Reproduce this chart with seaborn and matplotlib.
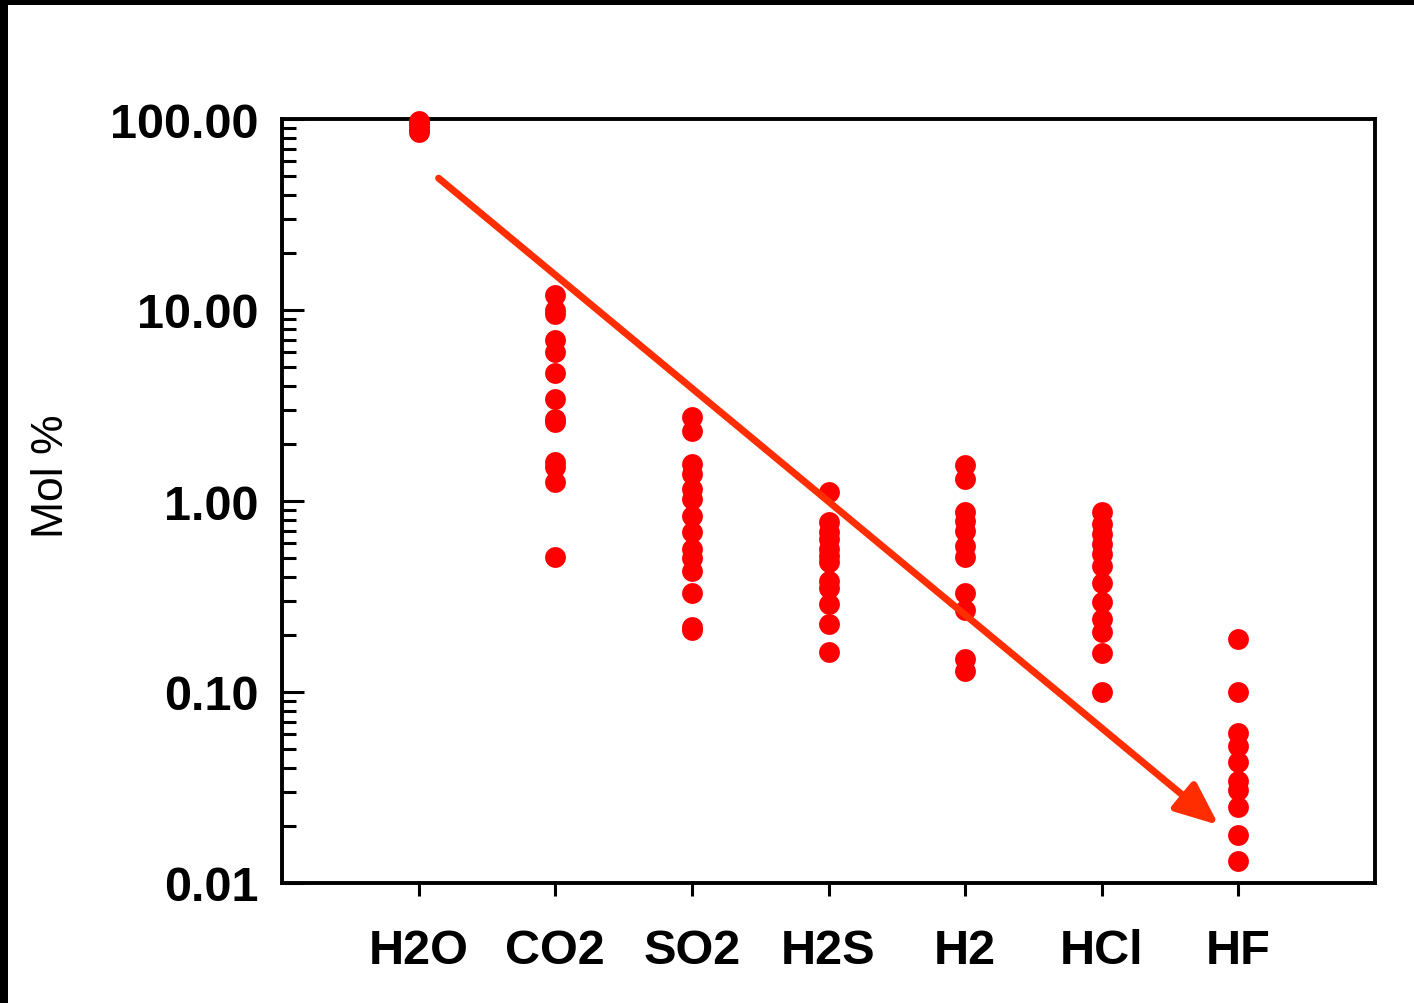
import matplotlib
matplotlib.use("Agg")
import matplotlib.pyplot as plt
import seaborn as sns
import pandas as pd
from matplotlib.patches import Rectangle
from matplotlib.ticker import LogLocator, FixedLocator, FuncFormatter, NullFormatter

categories = ["H2O", "CO2", "SO2", "H2S", "H2", "HCl", "HF"]
h2o = [98, 95, 92, 88, 85]
co2 = [12, 10, 9.5, 7, 6, 4.7, 3.4, 2.7, 2.6, 1.6, 1.5, 1.25, 0.51]
so2 = [2.75, 2.33, 1.56, 1.38, 1.16, 1.02, 0.83, 0.69, 0.56, 0.5, 0.43, 0.33, 0.22, 0.21]
h2s = [1.11, 0.78, 0.69, 0.63, 0.56, 0.515, 0.48, 0.38, 0.35, 0.29, 0.227, 0.162]
h2 = [1.54, 1.3, 0.876, 0.79, 0.7, 0.58, 0.51, 0.33, 0.27, 0.149, 0.129]
hcl = [0.876, 0.758, 0.67, 0.596, 0.528, 0.457, 0.372, 0.296, 0.241, 0.206, 0.16, 0.10]
hf = [0.19, 0.10, 0.061, 0.052, 0.043, 0.034, 0.0305, 0.025, 0.0178, 0.013]
y_ticks = [0.01, 0.1, 1, 10, 100]
y_label = "Mol %"
arrow_start = (0.146, 49.0)
arrow_end = (5.856, 0.0201)

series = [h2o, co2, so2, h2s, h2, hcl, hf]
rows = []
for cat, vals in zip(categories, series):
    for v in vals:
        rows.append({"gas": cat, "mol": v})
df = pd.DataFrame(rows)

sns.set_style("white")
plt.rcParams["font.family"] = ["Liberation Sans", "DejaVu Sans"]
plt.rcParams["text.color"] = "black"
plt.rcParams["axes.labelcolor"] = "black"
plt.rcParams["xtick.color"] = "black"
plt.rcParams["ytick.color"] = "black"

fig = plt.figure(figsize=(14.14, 10.04), dpi=100)
ax = fig.add_axes([282 / 1414, 1 - 884 / 1004, (1375 - 282) / 1414, (884 - 120) / 1004])

sns.stripplot(data=df, x="gas", y="mol", order=categories, jitter=False,
              color="#FF0000", size=15, linewidth=0, ax=ax, clip_on=False, zorder=3)

ax.set_yscale("log")
ax.set_ylim(0.01, 100)
ax.set_xlim(-1, len(categories))

ax.yaxis.set_major_locator(FixedLocator(y_ticks))
ax.yaxis.set_minor_locator(LogLocator(base=10, subs=range(2, 10), numticks=20))
ax.yaxis.set_major_formatter(FuncFormatter(lambda v, p: f"{v:.2f}"))
ax.yaxis.set_minor_formatter(NullFormatter())

for s in ax.spines.values():
    s.set_visible(True)
    s.set_linewidth(2.8)
    s.set_color("black")

ax.tick_params(axis="y", which="major", direction="in", length=16, width=2.2,
               pad=17, labelsize=35, colors="black", left=True)
ax.tick_params(axis="y", which="minor", direction="in", length=10, width=2.2,
               color="black", left=True)
ax.tick_params(axis="x", which="major", direction="out", length=9, width=2.2,
               pad=23.5, labelsize=35, colors="black", bottom=True)
for lab in ax.get_xticklabels() + ax.get_yticklabels():
    lab.set_fontweight("bold")

ax.set_xlabel("")
ax.set_ylabel(y_label, fontsize=32, color="black")
ax.yaxis.set_label_coords(-0.192, 0.534)

ax.annotate("", xy=arrow_end, xytext=arrow_start, xycoords="data", textcoords="data",
            arrowprops=dict(arrowstyle="-|>,head_length=1.3,head_width=0.55",
                            mutation_scale=20, color="#FF2D00", lw=5,
                            shrinkA=0, shrinkB=0), zorder=4)

fig.add_artist(Rectangle((0, 1 - 6 / 1004), 1, 6 / 1004, transform=fig.transFigure,
                         facecolor="black", edgecolor="none"))
fig.add_artist(Rectangle((0, 0), 8 / 1414, 1, transform=fig.transFigure,
                         facecolor="black", edgecolor="none"))

fig.savefig("out.png", dpi=100)
